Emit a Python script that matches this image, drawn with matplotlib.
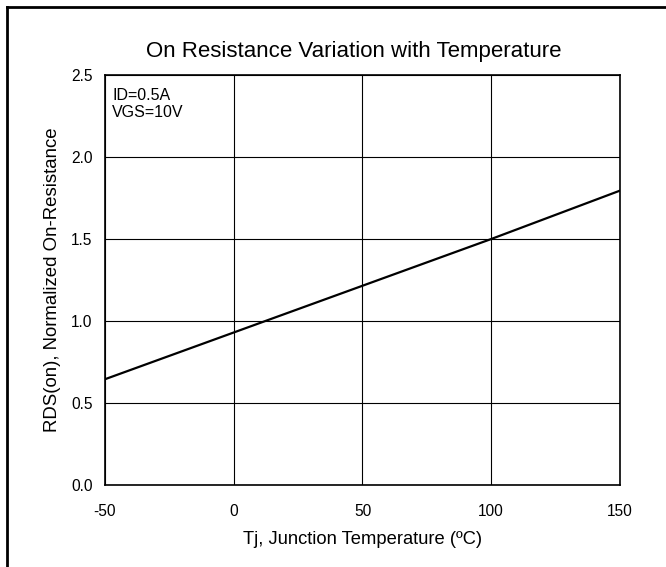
import matplotlib
matplotlib.use("Agg")
import matplotlib.pyplot as plt
from matplotlib.lines import Line2D

plt.rcParams['font.family'] = ['Liberation Sans', 'DejaVu Sans']

# Data
temperature = [-50, 0, 50, 100, 150]
rds_norm = [0.645, 0.93, 1.215, 1.50, 1.795]
x_ticks = [-50, 0, 50, 100, 150]
y_ticks = [0.0, 0.5, 1.0, 1.5, 2.0, 2.5]
y_tick_labels = ["0.0", "0.5", "1.0", "1.5", "2.0", "2.5"]
title = "On Resistance Variation with Temperature"
x_label = "Tj, Junction Temperature (\u00baC)"
y_label = "RDS(on), Normalized On-Resistance"
note_lines = ["ID=0.5A", "VGS=10V"]

W, H = 666, 567
fig = plt.figure(figsize=(W / 100, H / 100), dpi=100)
fig.patch.set_facecolor('white')

ax = fig.add_axes([105 / W, (H - 485) / H, 515 / W, 410 / H])
ax.plot(temperature, rds_norm, color='black', linewidth=1.6, zorder=3)

ax.set_xlim(-50, 150)
ax.set_ylim(0, 2.5)
ax.set_xticks(x_ticks)
ax.set_xticklabels([str(t) for t in x_ticks])
ax.set_yticks(y_ticks)
ax.set_yticklabels(y_tick_labels)
ax.grid(True, color='black', linewidth=0.8)
ax.set_axisbelow(True)
ax.tick_params(axis='both', length=0, labelsize=11.2, colors='black')
ax.tick_params(axis='x', pad=14)
ax.tick_params(axis='y', pad=9)
for s in ax.spines.values():
    s.set_linewidth(1.2)
    s.set_color('black')

ax.set_xlabel(x_label, fontsize=13.2, labelpad=8)
ax.set_ylabel(y_label, fontsize=13.4, labelpad=7)

fig.text(354 / W, 1 - 52 / H, title, fontsize=16, ha='center', va='center')

ax.text(112 / W, 1 - 100 / H, note_lines[0], transform=fig.transFigure,
        fontsize=11.5, ha='left', va='baseline')
ax.text(112 / W, 1 - 117 / H, note_lines[1], transform=fig.transFigure,
        fontsize=11.5, ha='left', va='baseline')

# outer frame (top and left edges)
fig.add_artist(Line2D([7 / W, 1.0], [1 - 7 / H, 1 - 7 / H], color='black',
                      linewidth=2.0, transform=fig.transFigure))
fig.add_artist(Line2D([7 / W, 7 / W], [0.0, 1 - 7 / H], color='black',
                      linewidth=2.0, transform=fig.transFigure))

fig.savefig("out.png", dpi=100, facecolor='white')
